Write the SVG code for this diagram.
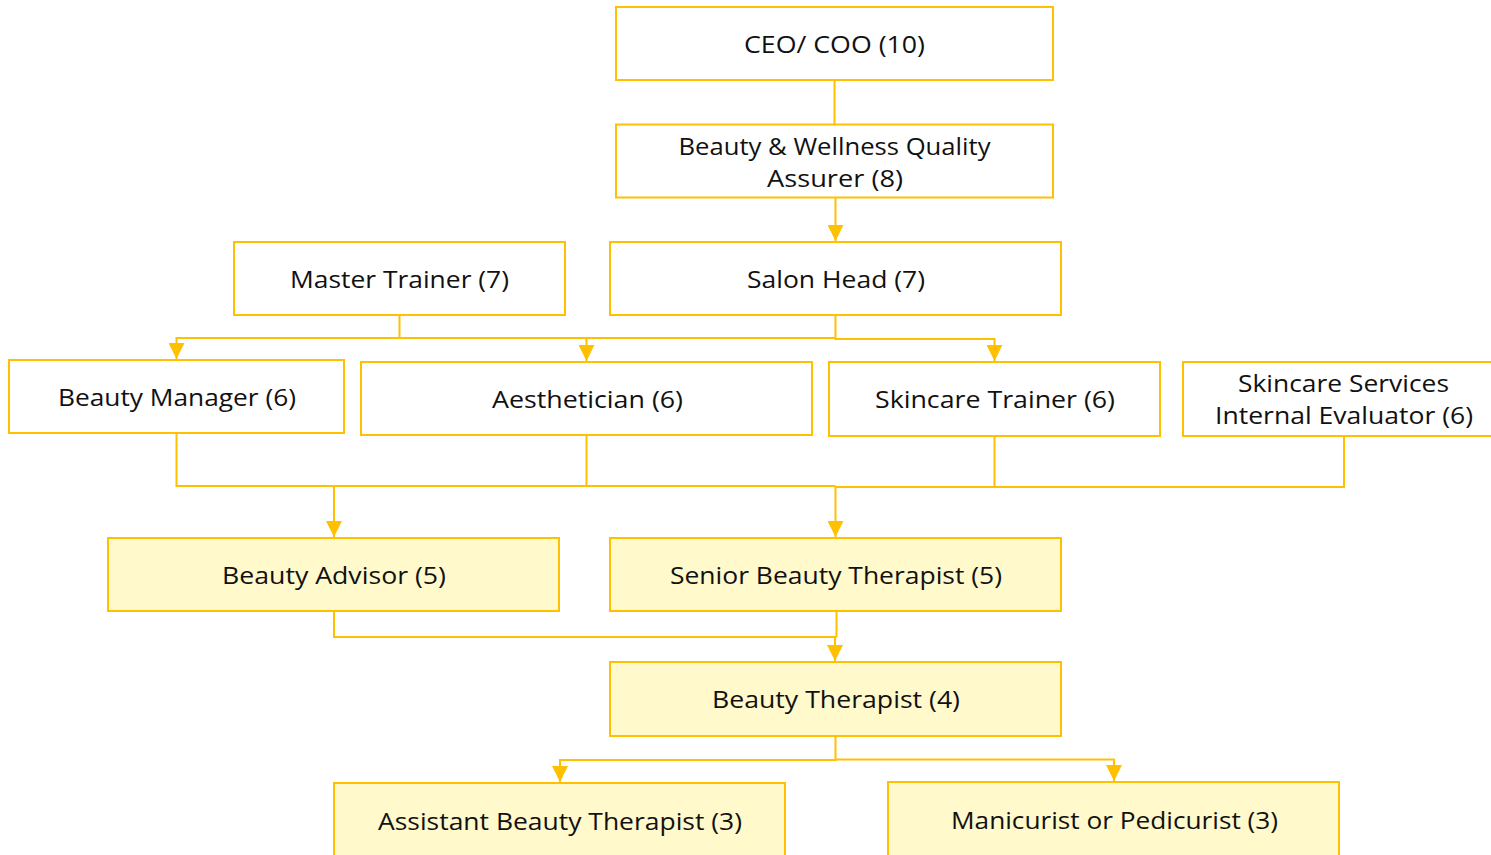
<svg xmlns="http://www.w3.org/2000/svg" width="1491" height="855" viewBox="0 0 1491 855">
<style>
.box{fill:#ffffff;stroke:#ffc000;stroke-width:2}
.lt{fill:#fff9cc;stroke:#ffc000;stroke-width:2}
.t{font-family:"Open Sans","Liberation Sans",sans-serif;font-size:24px;fill:#111111;text-anchor:middle}
.c{fill:none;stroke:#ffc000;stroke-width:2}
</style>
<defs>
<marker id="arr" markerUnits="userSpaceOnUse" markerWidth="16" markerHeight="16" viewBox="0 0 16 16" refX="16" refY="8" orient="auto">
<path d="M0,0 L16,8 L0,16 Z" fill="#ffc000"/>
</marker>
</defs>
<rect width="1491" height="855" fill="#ffffff"/>
<g id="connectors">
<path class="c" d="M834.5,80 V124"/>
<path class="c" d="M835.5,197 V241" marker-end="url(#arr)"/>
<path class="c" d="M399.5,315 V338 H176.5 V359" marker-end="url(#arr)"/>
<path class="c" d="M399.5,338 H586.5 V361" marker-end="url(#arr)"/>
<path class="c" d="M835.5,315 V339 H994.5 V361" marker-end="url(#arr)"/>
<path class="c" d="M586.5,338 H835.5"/>
<path class="c" d="M176.5,433 V486 H835.5"/>
<path class="c" d="M586.5,435 V486"/>
<path class="c" d="M994.5,436 V487 H835.5"/>
<path class="c" d="M1344,436 V487 H994.5"/>
<path class="c" d="M334,486 V537" marker-end="url(#arr)"/>
<path class="c" d="M835.5,486 V537" marker-end="url(#arr)"/>
<path class="c" d="M334,611 V637 H836.5"/>
<path class="c" d="M836.5,611 V637"/>
<path class="c" d="M835,637 V661" marker-end="url(#arr)"/>
<path class="c" d="M835.5,736 V760 H560 V782" marker-end="url(#arr)"/>
<path class="c" d="M835.5,759.5 H1114 V781" marker-end="url(#arr)"/>
</g>
<g id="ceo"><rect class="box" x="616" y="7" width="437" height="73"/><text class="t" x="834.5" y="53" textLength="181" lengthAdjust="spacingAndGlyphs">CEO/ COO (10)</text></g>
<g id="bwqa"><rect class="box" x="616" y="124.5" width="437" height="73"/><text class="t" x="834.5" y="155" textLength="312" lengthAdjust="spacingAndGlyphs">Beauty &amp; Wellness Quality</text><text class="t" x="835" y="187" textLength="136" lengthAdjust="spacingAndGlyphs">Assurer (8)</text></g>
<g id="master-trainer"><rect class="box" x="234" y="242" width="331" height="73"/><text class="t" x="399.5" y="288" textLength="219" lengthAdjust="spacingAndGlyphs">Master Trainer (7)</text></g>
<g id="salon-head"><rect class="box" x="610" y="242" width="451" height="73"/><text class="t" x="836" y="288" textLength="178" lengthAdjust="spacingAndGlyphs">Salon Head (7)</text></g>
<g id="beauty-manager"><rect class="box" x="9" y="360" width="335" height="73"/><text class="t" x="177" y="406" textLength="238" lengthAdjust="spacingAndGlyphs">Beauty Manager (6)</text></g>
<g id="aesthetician"><rect class="box" x="361" y="362" width="451" height="73"/><text class="t" x="587.5" y="407.5" textLength="191" lengthAdjust="spacingAndGlyphs">Aesthetician (6)</text></g>
<g id="skincare-trainer"><rect class="box" x="829" y="362" width="331" height="74"/><text class="t" x="995" y="408" textLength="240" lengthAdjust="spacingAndGlyphs">Skincare Trainer (6)</text></g>
<g id="skincare-evaluator"><rect class="box" x="1183" y="362" width="330" height="74"/><text class="t" x="1343.5" y="392" textLength="211" lengthAdjust="spacingAndGlyphs">Skincare Services</text><text class="t" x="1344" y="424" textLength="258" lengthAdjust="spacingAndGlyphs">Internal Evaluator (6)</text></g>
<g id="beauty-advisor"><rect class="lt" x="108" y="538" width="451" height="73"/><text class="t" x="334" y="584" textLength="224" lengthAdjust="spacingAndGlyphs">Beauty Advisor (5)</text></g>
<g id="senior-beauty-therapist"><rect class="lt" x="610" y="538" width="451" height="73"/><text class="t" x="836" y="584" textLength="332" lengthAdjust="spacingAndGlyphs">Senior Beauty Therapist (5)</text></g>
<g id="beauty-therapist"><rect class="lt" x="610" y="662" width="451" height="74"/><text class="t" x="836" y="708" textLength="248" lengthAdjust="spacingAndGlyphs">Beauty Therapist (4)</text></g>
<g id="assistant-beauty-therapist"><rect class="lt" x="334" y="783" width="451" height="80"/><text class="t" x="560" y="829.5" textLength="364" lengthAdjust="spacingAndGlyphs">Assistant Beauty Therapist (3)</text></g>
<g id="manicurist"><rect class="lt" x="888" y="782" width="451" height="80"/><text class="t" x="1114.5" y="828.5" textLength="327" lengthAdjust="spacingAndGlyphs">Manicurist or Pedicurist (3)</text></g>
</svg>
